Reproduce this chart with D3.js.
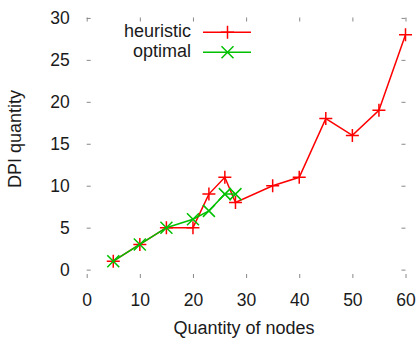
<!DOCTYPE html>
<html>
<head>
<meta charset="utf-8">
<script src="https://cdn.jsdelivr.net/npm/d3@7"></script>
<style>
body { margin: 0; background: #fff; }
text { font-family: "Liberation Sans", Arial, sans-serif; font-size: 18px; fill: #1a1a1a; }
</style>
</head>
<body>
<div id="chart"></div>
<script>
const heuristicX = [5, 10, 15, 20, 23, 26, 28, 35, 40, 45, 50, 55, 60];
const heuristicY = [1, 3, 5, 5, 9, 11, 8, 10, 11, 18, 16, 19, 28];
const optimalX = [5, 10, 15, 20, 23, 26, 28];
const optimalY = [1, 3, 5, 6, 7, 9, 9];
const xTicks = [0, 10, 20, 30, 40, 50, 60];
const yTicks = [0, 5, 10, 15, 20, 25, 30];

const W = 419, H = 339;
const margin = {left: 86.7, right: 13.5, top: 17.5, bottom: 61};

const svg = d3.select("#chart").append("svg")
    .attr("width", W).attr("height", H);

const x = d3.scaleLinear().domain([0, 60]).range([margin.left, W - margin.right]);
const y = d3.scaleLinear().domain([-1, 30.05]).range([H - margin.bottom, margin.top]);

// inward ticks on all four sides, no border lines
const tickLen = 4;
const tickColor = "#888";
const xAxisBottom = d3.axisBottom(x).tickValues(xTicks).tickSize(-tickLen).tickPadding(16);
const xAxisTop = d3.axisTop(x).tickValues(xTicks).tickSize(-tickLen).tickFormat("");
const yAxisLeft = d3.axisLeft(y).tickValues(yTicks).tickSize(-tickLen).tickPadding(17);
const yAxisRight = d3.axisRight(y).tickValues(yTicks).tickSize(-tickLen).tickFormat("");

function styleAxis(g) {
    g.select(".domain").remove();
    g.selectAll(".tick line").attr("stroke", tickColor);
    g.selectAll(".tick text").style("font-size", "17.5px").attr("fill", "#1a1a1a");
}

svg.append("g").attr("transform", `translate(0,${y(-1)})`).call(xAxisBottom).call(styleAxis);
svg.append("g").attr("transform", `translate(0,${y(30.05)})`).call(xAxisTop).call(styleAxis);
svg.append("g").attr("transform", `translate(${x(0)},0)`).call(yAxisLeft).call(styleAxis);
svg.append("g").attr("transform", `translate(${x(60)},0)`).call(yAxisRight).call(styleAxis);

// axis titles
svg.append("text")
    .attr("x", 244)
    .attr("y", 334)
    .attr("text-anchor", "middle")
    .text("Quantity of nodes");
svg.append("text")
    .attr("transform", "translate(21,139) rotate(-90)")
    .attr("text-anchor", "middle")
    .text("DPI quantity");

const line = d3.line().x(d => x(d[0])).y(d => y(d[1]));

function plusPath(cx, cy, r) {
    return `M${cx - r},${cy}H${cx + r}M${cx},${cy - r}V${cy + r}`;
}
function crossPath(cx, cy, r) {
    return `M${cx - r},${cy - r}L${cx + r},${cy + r}M${cx - r},${cy + r}L${cx + r},${cy - r}`;
}

const series = [
    {name: "heuristic", xs: heuristicX, ys: heuristicY, color: "#ff0000", marker: plusPath, r: 6.5},
    {name: "optimal", xs: optimalX, ys: optimalY, color: "#00c000", marker: crossPath, r: 6}
];

series.forEach(function (s) {
    const pts = s.xs.map((v, i) => [v, s.ys[i]]);
    svg.append("path")
        .datum(pts)
        .attr("fill", "none")
        .attr("stroke", s.color)
        .attr("stroke-width", 1.5)
        .attr("d", line);
    svg.append("g").selectAll("path")
        .data(pts)
        .join("path")
        .attr("fill", "none")
        .attr("stroke", s.color)
        .attr("stroke-width", 1.5)
        .attr("d", d => s.marker(x(d[0]), y(d[1]), s.r));
});

// legend
const legend = svg.append("g");
series.forEach(function (s, i) {
    const ly = 32.3 + i * 20;
    legend.append("text")
        .attr("x", 191)
        .attr("y", ly + 4.5)
        .attr("text-anchor", "end")
        .text(s.name);
    legend.append("line")
        .attr("x1", 203).attr("x2", 251)
        .attr("y1", ly).attr("y2", ly)
        .attr("stroke", s.color)
        .attr("stroke-width", 1.5);
    legend.append("path")
        .attr("fill", "none")
        .attr("stroke", s.color)
        .attr("stroke-width", 1.5)
        .attr("d", s.marker(227.5, ly, s.r));
});
</script>
</body>
</html>
